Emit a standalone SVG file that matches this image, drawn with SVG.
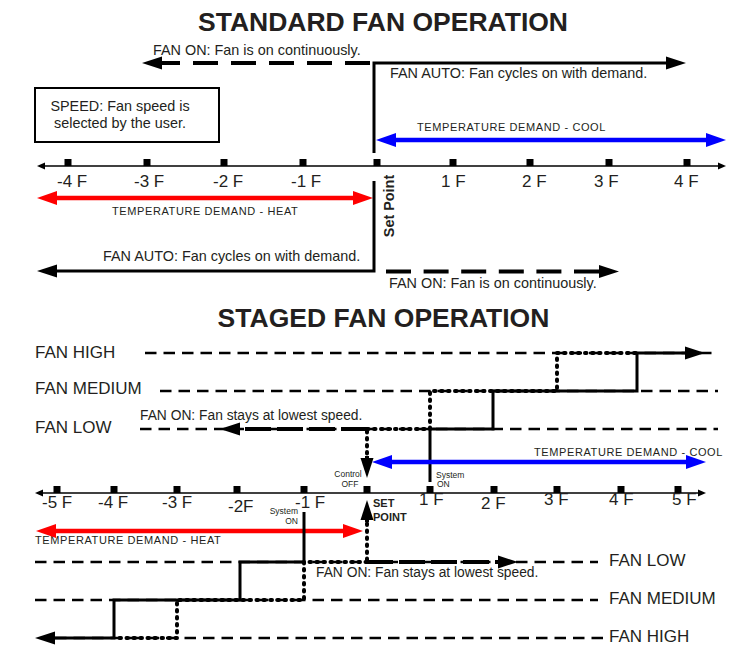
<svg xmlns="http://www.w3.org/2000/svg" width="752" height="670" viewBox="0 0 752 670">
<style>
text{font-family:"Liberation Sans",Arial,sans-serif;fill:#231f20}
.title{font-size:26.5px;font-weight:bold;text-anchor:middle}
.lbl{font-size:14.4px}
.lbl2{font-size:13.8px}
.big{font-size:17px}
.dem{font-size:11px;letter-spacing:0.6px}
.tiny{font-size:8.5px}
.bold{font-weight:bold}
.ax{stroke:#000;stroke-width:1.5;fill:none}
.solid{stroke:#000;stroke-width:3;fill:none;stroke-linejoin:miter}
.thickdash{stroke:#000;stroke-width:4;fill:none}
.thin{stroke:#000;stroke-width:2.5;fill:none;stroke-dasharray:11.5 7}
.dot{stroke:#000;stroke-width:4;fill:none;stroke-linecap:round;stroke-dasharray:1.5 5.5}
.red{stroke:#ff0000;stroke-width:4.5;fill:none}
.blue{stroke:#0000ff;stroke-width:4.5;fill:none}
.tick{fill:#000}
</style>
<defs>
<marker id="ahk" markerUnits="userSpaceOnUse" markerWidth="20" markerHeight="13" refX="0" refY="6.5" orient="auto-start-reverse" overflow="visible"><path d="M0,0 L20,6.5 L0,13 Z" fill="#000"/></marker>
<marker id="ahr" markerUnits="userSpaceOnUse" markerWidth="20" markerHeight="14" refX="0" refY="7" orient="auto-start-reverse" overflow="visible"><path d="M0,0 L20,7 L0,14 Z" fill="#ff0000"/></marker>
<marker id="ahb" markerUnits="userSpaceOnUse" markerWidth="20" markerHeight="14" refX="0" refY="7" orient="auto-start-reverse" overflow="visible"><path d="M0,0 L20,7 L0,14 Z" fill="#0000ff"/></marker>
<marker id="ahs" markerUnits="userSpaceOnUse" markerWidth="8" markerHeight="7" refX="0" refY="3.5" orient="auto-start-reverse" overflow="visible"><path d="M0,0 L8,3.5 L0,7 Z" fill="#000"/></marker>
</defs>

<g id="standard">
  <text id="title-standard" class="title" x="383" y="31">STANDARD FAN OPERATION</text>
  <g id="speed-box">
    <rect x="35" y="88" width="184" height="54" fill="#fff" stroke="#000" stroke-width="2"/>
    <text class="lbl" x="120" y="111" text-anchor="middle">SPEED: Fan speed is</text>
    <text class="lbl" x="120" y="128" text-anchor="middle">selected by the user.</text>
  </g>
  <g id="std-labels">
    <text class="lbl" x="153" y="55">FAN ON: Fan is on continuously.</text>
    <text class="lbl" x="390" y="78">FAN AUTO: Fan cycles on with demand.</text>
    <text class="dem" x="417" y="131">TEMPERATURE DEMAND - COOL</text>
    <text class="dem" x="112" y="215">TEMPERATURE DEMAND - HEAT</text>
    <text class="lbl" x="103" y="261">FAN AUTO: Fan cycles on with demand.</text>
    <text class="lbl" x="389" y="288">FAN ON: Fan is on continuously.</text>
    <text class="lbl bold" transform="translate(394,206) rotate(-90)" text-anchor="middle">Set Point</text>
  </g>
  <g id="std-axis">
    <path class="ax" d="M45,166 H718" marker-start="url(#ahs)" marker-end="url(#ahs)"/>
    <rect class="tick" x="64.5" y="159" width="7" height="7"/>
    <rect class="tick" x="143.5" y="159" width="7" height="7"/>
    <rect class="tick" x="220.5" y="159" width="7" height="7"/>
    <rect class="tick" x="299.5" y="159" width="7" height="7"/>
    <rect class="tick" x="373.5" y="159" width="7" height="7"/>
    <rect class="tick" x="449.5" y="159" width="7" height="7"/>
    <rect class="tick" x="526.5" y="159" width="7" height="7"/>
    <rect class="tick" x="605.5" y="159" width="7" height="7"/>
    <rect class="tick" x="683.5" y="159" width="7" height="7"/>
    <text class="big" x="57" y="187">-4 F</text>
    <text class="big" x="134" y="187">-3 F</text>
    <text class="big" x="213" y="187">-2 F</text>
    <text class="big" x="291" y="187">-1 F</text>
    <text class="big" x="441" y="187">1 F</text>
    <text class="big" x="522" y="187">2 F</text>
    <text class="big" x="594" y="187">3 F</text>
    <text class="big" x="674" y="187">4 F</text>
  </g>
  <g id="std-connectors">
    <path class="thickdash" d="M370,63 H162" stroke-dasharray="25 13" marker-end="url(#ahk)"/>
    <path class="solid" d="M374,153 V63 H666" marker-end="url(#ahk)"/>
    <path class="blue" d="M396,140 H706" marker-start="url(#ahb)" marker-end="url(#ahb)"/>
    <path class="red" d="M57,198 H353" marker-start="url(#ahr)" marker-end="url(#ahr)"/>
    <path class="solid" d="M374,181 V271 H57" marker-end="url(#ahk)"/>
    <path class="thickdash" d="M386,271.5 H599" stroke-dasharray="25 12.6" marker-end="url(#ahk)"/>
  </g>
</g>

<g id="staged">
  <text id="title-staged" class="title" x="383.5" y="327">STAGED FAN OPERATION</text>
  <g id="stg-labels">
    <text class="big" x="35" y="358">FAN HIGH</text>
    <text class="big" x="35" y="394">FAN MEDIUM</text>
    <text class="big" x="35" y="433">FAN LOW</text>
    <text class="lbl2" x="140" y="420">FAN ON: Fan stays at lowest speed.</text>
    <text class="tiny" x="348" y="477" text-anchor="middle">Control</text>
    <text class="tiny" x="350" y="487" text-anchor="middle">OFF</text>
    <text class="tiny" x="436" y="478">System</text>
    <text class="tiny" x="437" y="487">ON</text>
    <text class="dem" x="534" y="456">TEMPERATURE DEMAND - COOL</text>
    <text class="bold" font-size="11" x="373" y="507">SET</text>
    <text class="bold" font-size="11" x="373" y="521">POINT</text>
    <text class="tiny" x="298" y="514" text-anchor="end">System</text>
    <text class="tiny" x="298" y="524" text-anchor="end">ON</text>
    <text class="dem" x="35" y="544">TEMPERATURE DEMAND - HEAT</text>
    <text class="lbl2" x="316" y="577">FAN ON: Fan stays at lowest speed.</text>
    <text class="big" x="609" y="566">FAN LOW</text>
    <text class="big" x="609" y="604">FAN MEDIUM</text>
    <text class="big" x="609" y="642">FAN HIGH</text>
  </g>
  <g id="stg-axis">
    <path class="ax" d="M43,493 H698" marker-start="url(#ahs)" marker-end="url(#ahs)"/>
    <rect class="tick" x="53.5" y="486" width="7" height="7"/>
    <rect class="tick" x="110.5" y="486" width="7" height="7"/>
    <rect class="tick" x="173.5" y="486" width="7" height="7"/>
    <rect class="tick" x="233.5" y="486" width="7" height="7"/>
    <rect class="tick" x="300.5" y="486" width="7" height="7"/>
    <rect class="tick" x="363.5" y="486" width="7" height="7"/>
    <rect class="tick" x="426.5" y="486" width="7" height="7"/>
    <rect class="tick" x="490.5" y="486" width="7" height="7"/>
    <rect class="tick" x="553.5" y="486" width="7" height="7"/>
    <rect class="tick" x="617.5" y="486" width="7" height="7"/>
    <rect class="tick" x="674.5" y="486" width="7" height="7"/>
    <text class="big" x="42" y="508">-5 F</text>
    <text class="big" x="98" y="508">-4 F</text>
    <text class="big" x="162" y="508">-3 F</text>
    <text class="big" x="228" y="512">-2F</text>
    <text class="big" x="295" y="508">-1 F</text>
    <text class="big" x="419" y="505">1 F</text>
    <text class="big" x="481" y="509">2 F</text>
    <text class="big" x="544" y="505">3 F</text>
    <text class="big" x="609" y="505">4 F</text>
    <text class="big" x="672" y="505">5 F</text>
  </g>
  <g id="stg-connectors">
    <path class="thin" d="M145,353 H718"/>
    <path class="thin" d="M160,391 H718"/>
    <path class="thin" d="M140,429 H718"/>
    <path class="thin" d="M35,562 H598"/>
    <path class="thin" d="M35,600 H598"/>
    <path class="thin" d="M55,638 H603"/>
    <path class="thickdash" d="M367,429 H240" stroke-dasharray="26 6" marker-end="url(#ahk)"/>
    <path class="dot" d="M367,429 H430 V391 H557 V353 H637"/>
    <path class="solid" d="M430,482 V429 H493 V391 H637 V353 H685" marker-end="url(#ahk)"/>
    <path class="dot" d="M367,431 V456"/>
    <path class="thickdash" d="M367,456 V458" marker-end="url(#ahk)"/>
    <path class="blue" d="M392,462 H686" marker-start="url(#ahb)" marker-end="url(#ahb)"/>
    <path class="red" d="M56,531 H343" marker-start="url(#ahr)" marker-end="url(#ahr)"/>
    <path class="dot" d="M367,560 V522"/>
    <path class="thickdash" d="M367,522 V520" marker-end="url(#ahk)"/>
    <path class="solid" d="M304,512 V562 H240 V600 H114 V638 H55" marker-end="url(#ahk)"/>
    <path class="dot" d="M367,562 H304 V600 H177 V638 H114"/>
    <path class="thickdash" d="M367,562 H498" stroke-dasharray="26 6" marker-end="url(#ahk)"/>
  </g>
</g>
</svg>
